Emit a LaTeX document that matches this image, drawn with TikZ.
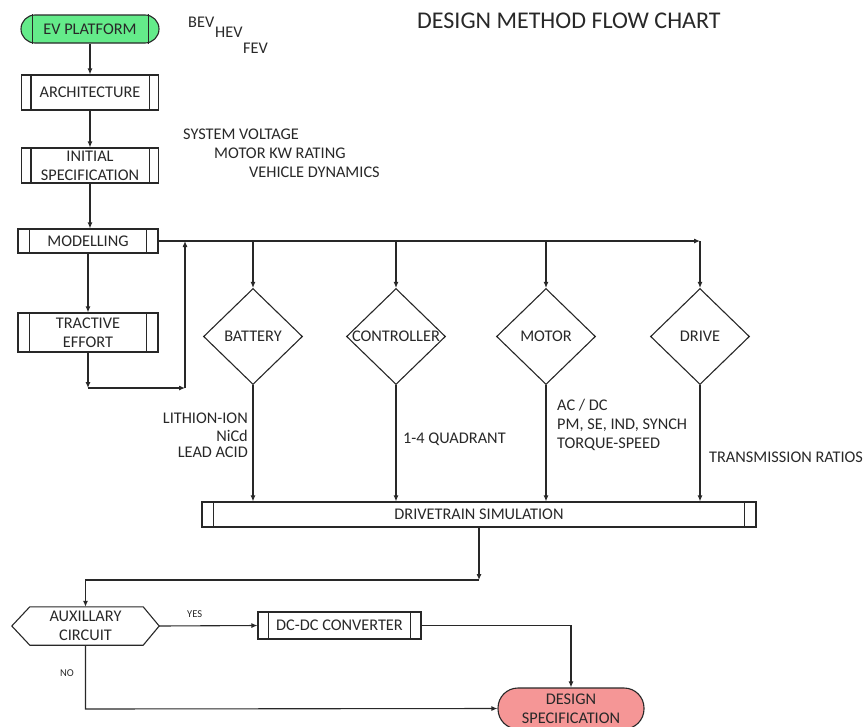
\documentclass[tikz,border=0pt]{standalone}
\usepackage{fontspec}
\setmainfont{Carlito}
\usetikzlibrary{arrows.meta,shapes.geometric,calc}
\definecolor{lc}{RGB}{40,40,40}
\definecolor{evgreen}{RGB}{100,235,138}
\definecolor{dspink}{RGB}{245,150,150}
\newcommand\mainfs{\fontsize{16.3}{19}\selectfont}
\tikzset{
  ln/.style={draw=lc, line width=1.1pt},
  arr/.style={ln, -{Latex[length=6pt,width=5pt]}},
  txt/.style={font=\mainfs, inner sep=0pt, text=lc},
  small/.style={font=\fontsize{10.5}{12}\selectfont, inner sep=0pt, text=lc},
  pproc/.style={ln, fill=white, align=center, font=\mainfs, text=lc, inner sep=0pt},
  term/.style={ln, align=center, font=\mainfs, text=lc, inner sep=0pt},
  dia/.style={diamond, ln, minimum width=99pt, minimum height=96pt, inner sep=0pt, font=\mainfs, text=lc},
}
\newcommand\pplines[2]{%
  \draw[ln] ([xshift=#2]#1.north west) -- ([xshift=#2]#1.south west);
  \draw[ln] ([xshift=-#2]#1.north east) -- ([xshift=-#2]#1.south east);}
\begin{document}
\begin{tikzpicture}[x=1pt,y=-1pt]
\useasboundingbox (0,0) rectangle (865,726);
% title and notes
\node[txt, anchor=base west, font=\fontsize{24}{28}\selectfont] (title) at (417,28) {DESIGN METHOD FLOW CHART};
\node[txt, anchor=base west] (bev) at (188,27) {BEV};
\node[txt, anchor=base west] (hev) at (215,37) {HEV};
\node[txt, anchor=base west] (fev) at (243,53) {FEV};
\node[txt, anchor=base west] (sv) at (183,139) {SYSTEM VOLTAGE};
\node[txt, anchor=base west] (mk) at (214,158) {MOTOR KW RATING};
\node[txt, anchor=base west] (vd) at (249,177) {VEHICLE DYNAMICS};
% left column
\node[term, fill=evgreen, rounded corners=14pt, minimum width=138pt, minimum height=28pt] (ev) at (90,29) {EV PLATFORM};
\draw[ln] ([xshift=12pt]ev.north west) -- ([xshift=12pt]ev.south west);
\draw[ln] ([xshift=-11pt]ev.north east) -- ([xshift=-11pt]ev.south east);
\node[pproc, minimum width=137pt, minimum height=35pt] (arch) at (90,92.5) {ARCHITECTURE};
\pplines{arch}{10pt}
\node[pproc, minimum width=137pt, minimum height=35pt] (init) at (90,165.5) {INITIAL\\SPECIFICATION};
\pplines{init}{10pt}
\node[pproc, minimum width=140pt, minimum height=24pt] (model) at (88,241) {MODELLING};
\pplines{model}{12pt}
\node[pproc, minimum width=140pt, minimum height=39pt] (tract) at (88,332.5) {TRACTIVE\\EFFORT};
\pplines{tract}{12pt}
% diamonds
\node[dia] (batt) at (253,336.5) {\makebox[0pt]{BATTERY}};
\node[dia] (ctrl) at (396,336.5) {\makebox[0pt]{CONTROLLER}};
\node[dia] (motor) at (546,336.5) {\makebox[0pt]{MOTOR}};
\node[dia] (drive) at (700,336.5) {\makebox[0pt]{DRIVE}};
% drivetrain
\node[pproc, minimum width=554pt, minimum height=25pt] (dt) at (479,514.5) {DRIVETRAIN SIMULATION};
\pplines{dt}{12pt}
% bottom
\node[txt, minimum width=147pt, minimum height=38pt, align=center] (aux) at (85.5,626) {AUXILLARY\\CIRCUIT};
\draw[ln] (aux.west) -- ([xshift=18pt]aux.north west) -- ([xshift=-16pt]aux.north east) -- (aux.east)
  -- ([xshift=-16pt]aux.south east) -- ([xshift=18pt]aux.south west) -- cycle;
\node[pproc, minimum width=163pt, minimum height=27pt] (dcdc) at (339.5,625.5) {DC-DC CONVERTER};
\pplines{dcdc}{11pt}
\node[term, fill=dspink, rounded corners=20pt, minimum width=146pt, minimum height=41pt] (ds) at (571,708.5) {DESIGN\\SPECIFICATION};
% side texts
\node[txt, anchor=base east] (li) at (248,423) {LITHION-ION};
\node[txt, anchor=base east] (ni) at (248,441) {NiCd};
\node[txt, anchor=base east] (la) at (248,457) {LEAD ACID};
\node[txt, anchor=base west] (quad) at (403,443) {1-4 QUADRANT};
\node[txt, anchor=base west] (acdc) at (557,410) {AC / DC};
\node[txt, anchor=base west] (pm) at (557,429) {PM, SE, IND, SYNCH};
\node[txt, anchor=base west] (ts) at (557,448) {TORQUE-SPEED};
\node[txt, anchor=base west] (tr) at (709,462) {TRANSMISSION RATIOS};
\node[small, anchor=base west] (yes) at (187,617) {YES};
\node[small, anchor=base west] (no) at (60,676) {NO};
% coordinates
\coordinate (c1) at (88,388);
\coordinate (c2) at (185,388);
\coordinate (j) at (185,241);
\coordinate (dtop) at (700,241);
\coordinate (c3) at (479,580);
\coordinate (c4) at (85.5,580);
\coordinate (c5) at (85.5,709);
\coordinate (c6) at (571,625.5);
% connectors
\draw[arr] (ev.south) -- (arch.north);
\draw[arr] (arch.south) -- (init.north);
\draw[arr] (init.south) -- (init.south |- model.north);
\draw[arr] (model.south) -- (tract.north);
\draw[arr] (tract.south) -- (c1);
\draw[arr] (c1) -- (c2);
\draw[arr] (c2) -- (j);
\draw[arr] (model.east) -- (dtop);
\draw[arr] (dtop) -- (drive.north);
\draw[arr] (batt.north |- model.east) -- (batt.north);
\draw[arr] (ctrl.north |- model.east) -- (ctrl.north);
\draw[arr] (motor.north |- model.east) -- (motor.north);
\draw[arr] (batt.south) -- (batt.south |- dt.north);
\draw[arr] (ctrl.south) -- (ctrl.south |- dt.north);
\draw[arr] (motor.south) -- (motor.south |- dt.north);
\draw[arr] (drive.south) -- (drive.south |- dt.north);
\draw[arr] (dt.south) -- (c3);
\draw[arr] (c3) -- (c4) -- (aux.north);
\draw[arr] (aux.east) -- (dcdc.west);
\draw[arr] (dcdc.east) -- (c6) -- (ds.north);
\draw[arr] (aux.south) -- (c5) -- (ds.west);
\end{tikzpicture}
\end{document}
